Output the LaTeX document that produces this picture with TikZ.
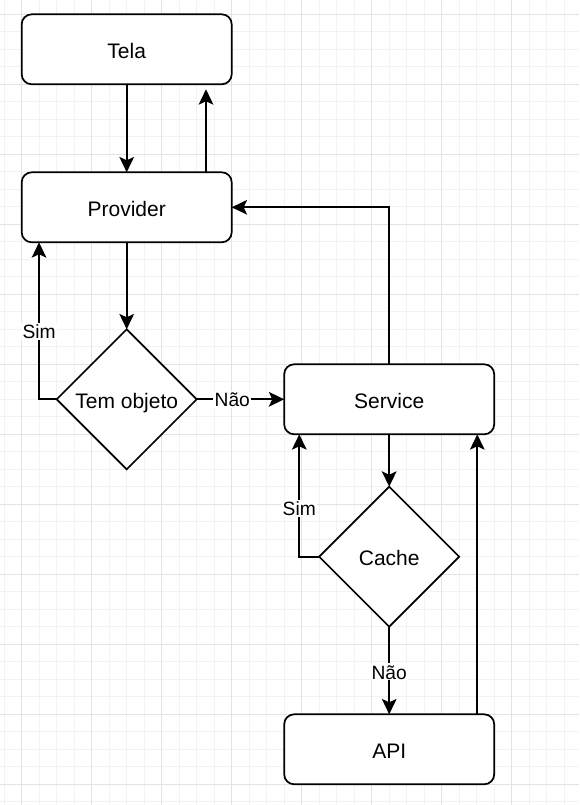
\documentclass[tikz,border=0pt]{standalone}
\usepackage{fontspec}
\setmainfont{Liberation Sans}
\usetikzlibrary{shapes.geometric,arrows.meta,positioning}
\tikzset{
  minorgrid/.style={draw=black!5, line width=0.75pt},
  majorgrid/.style={draw=black!11, line width=0.75pt},
  box/.style={draw=black, fill=white, rounded corners=7.5pt, line width=1.3pt,
    minimum width=157.5pt, minimum height=52.5pt, inner sep=0pt, outer sep=0pt,
    text height=13.5pt, text depth=0pt,
    font=\fontsize{15.75pt}{18pt}\selectfont},
  decision/.style={draw=black, fill=white, diamond, aspect=1, line width=1.3pt,
    minimum width=105pt, minimum height=105pt, inner sep=0pt, outer sep=0pt,
    text height=13.5pt, text depth=0pt,
    font=\fontsize{15.75pt}{18pt}\selectfont},
  arr/.style={draw=black, line width=1.3pt, -{Stealth[length=11.5pt, width=11pt, inset=2.5pt]}},
  lbl/.style={fill=white, inner sep=1pt, text height=10.9pt, text depth=0pt,
    font=\fontsize{14.4pt}{16pt}\selectfont}
}
\begin{document}
\begin{tikzpicture}[x=0.75pt, y=-0.75pt]
\useasboundingbox (0,0) rectangle (579,805);
\fill[white] (0,0) rectangle (579,805);
% grid
\foreach \k in {0,...,33} \draw[minorgrid] ({4.2+17.5*\k},0) -- ({4.2+17.5*\k},805);
\foreach \k in {0,...,45} \draw[minorgrid] (0,{14.3+17.5*\k}) -- (579,{14.3+17.5*\k});
\foreach \k in {1,5,...,33} \draw[majorgrid] ({4.2+17.5*\k},0) -- ({4.2+17.5*\k},805);
\foreach \k in {0,4,...,44} \draw[majorgrid] (0,{14.3+17.5*\k}) -- (579,{14.3+17.5*\k});

% nodes
\node[box] (tela) at (126.7,49.3) {Tela};
\node[box] (prov) at (126.7,207.3) {Provider};
\node[decision] (tem) at (126.7,399.3) {Tem objeto};
\node[box] (serv) at (389.2,399.3) {Service};
\node[decision] (cache) at (389.2,556.7) {Cache};
\node[box] (api) at (389.2,749.3) {API};
\coordinate (telagap) at (206,89.3);

% connectors
\draw[arr] (tela.south) -- (prov.north);
\draw[arr] (prov.north -| telagap) -- (telagap);
\draw[arr] (prov.south) -- (tem.north);
\draw[arr] (tem.west) -| ([xshift=13pt]prov.south west) node[lbl, pos=0.717] {Sim};
\draw[arr] (tem.east) -- (serv.west) node[lbl, pos=0.407] {Não};
\draw[arr] (serv.north) |- (prov.east);
\draw[arr] (serv.south) -- (cache.north);
\draw[arr] (cache.west) -| ([xshift=11.3pt]serv.south west) node[lbl, pos=0.698] {Sim};
\draw[arr] (cache.south) -- (api.north) node[lbl, pos=0.514] {Não};
\draw[arr] ([xshift=144.8pt]api.north west) -- ([xshift=144.8pt]serv.south west);
\end{tikzpicture}
\end{document}
